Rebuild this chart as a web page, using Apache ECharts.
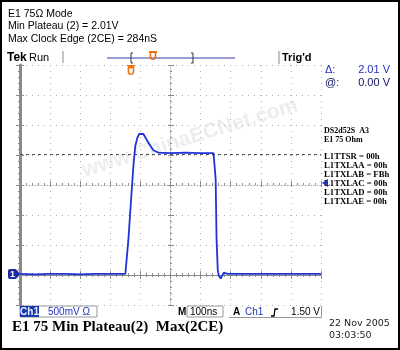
<!DOCTYPE html>
<html><head><meta charset="utf-8">
<script src="https://cdn.jsdelivr.net/npm/echarts@6/dist/echarts.min.js"></script>
<style>html,body{margin:0;padding:0;background:#fff;}#c{width:400px;height:350px;}</style>
</head><body><div id="c"></div>
<script>
const timeNs = [0, 50, 100, 150, 200, 250, 300, 350, 360, 370, 377, 383, 390, 396, 400, 410, 427, 443, 460, 500, 550, 600, 643, 647, 650, 653, 657, 660, 667, 677, 690, 750, 800, 850, 900, 950, 1000];
const ch1Volts = [0.02, 0.01, 0.02, 0.02, 0.01, 0.02, 0.02, 0.02, 0.58, 1.33, 1.83, 2.15, 2.29, 2.35, 2.37, 2.35, 2.20, 2.08, 2.04, 2.03, 2.04, 2.03, 2.03, 2.0, 1.6, 0.6, 0.08, 0.0, -0.06, 0.04, 0.02, 0.02, 0.02, 0.02, 0.02, 0.02, 0.02];
const cursorVolts = [2.01];
const headerLines = ['E1 75Ω Mode', 'Min Plateau (2) = 2.01V', 'Max Clock Edge (2CE) = 284nS'];
const regLines = ['L1TTSR = 00h', 'L1TXLAA = 00h', 'L1TXLAB = FBh', 'L1TXLAC = 00h', 'L1TXLAD = 00h', 'L1TXLAE = 00h'];

const chart = echarts.init(document.getElementById('c'), null, {renderer: 'canvas'});
const G = '#8a8a8a';
function xAx(extra) {
  return Object.assign({
    type: 'value', min: 0, max: 1000, interval: 100, gridIndex: 0,
    axisLabel: {show: false},
    axisLine: {show: true, lineStyle: {color: G, width: 1}},
    axisTick: {show: true, inside: true, length: 4, lineStyle: {color: G}},
    minorTick: {show: true, splitNumber: 5, length: 2, lineStyle: {color: G}},
    splitLine: {show: false}
  }, extra);
}
function yAx(extra) {
  return Object.assign({
    type: 'value', min: -0.5, max: 3.5, interval: 0.5, gridIndex: 0,
    axisLabel: {show: false},
    axisLine: {show: true, lineStyle: {color: G, width: 1}},
    axisTick: {show: true, inside: true, length: 4, lineStyle: {color: G}},
    minorTick: {show: true, splitNumber: 5, length: 2, lineStyle: {color: G}},
    splitLine: {show: false}
  }, extra);
}
function txt(t, x, y, font, fill, align) {
  return {type: 'text', z: 10, style: {text: t, x: x, y: y, font: font, fill: fill,
    align: align || 'left', textAlign: align || 'left', verticalAlign: 'middle', textVerticalAlign: 'middle'}};
}
const graphics = [];
headerLines.forEach((t, i) => graphics.push(txt(t, 8, 14 + i * 12.5, '10.5px "Liberation Sans", Arial, sans-serif', '#000')));
graphics.push(txt('Tek', 7, 58, 'bold 12px "Liberation Sans", Arial, sans-serif', '#000'));
graphics.push(txt('Run', 29, 58, '11px "Liberation Sans", Arial, sans-serif', '#000'));
graphics.push({type: 'line', z: 10, shape: {x1: 63, y1: 51, x2: 63, y2: 63}, style: {stroke: G, lineWidth: 1}});
graphics.push({type: 'line', z: 10, shape: {x1: 107, y1: 58, x2: 235, y2: 58}, style: {stroke: '#7a7ac8', lineWidth: 1.5}});
graphics.push({type: 'polyline', z: 10, shape: {points: [[133, 53], [131, 53], [131, 63], [133, 63]]}, style: {stroke: '#333', lineWidth: 1, fill: null}});
graphics.push({type: 'polyline', z: 10, shape: {points: [[191, 53], [193, 53], [193, 63], [191, 63]]}, style: {stroke: '#333', lineWidth: 1, fill: null}});
graphics.push(txt('U', 153, 57, 'bold 11px "Liberation Sans", Arial, sans-serif', '#f07010', 'center'));
graphics.push({type: 'line', z: 10, shape: {x1: 149, y1: 52, x2: 157, y2: 52}, style: {stroke: '#f07010', lineWidth: 2}});
graphics.push(txt('U', 131, 72, 'bold 11px "Liberation Sans", Arial, sans-serif', '#f07010', 'center'));
graphics.push({type: 'polygon', z: 10, shape: {points: [[126, 65], [136, 65], [131, 69]]}, style: {fill: '#f07010'}});
graphics.push({type: 'line', z: 10, shape: {x1: 279, y1: 51, x2: 279, y2: 64}, style: {stroke: G, lineWidth: 1}});
graphics.push(txt("Trig'd", 282, 58, 'bold 11px "Liberation Sans", Arial, sans-serif', '#000'));
// right panel
graphics.push(txt('Δ:', 325, 70, '11px "Liberation Sans", Arial, sans-serif', '#2030c0'));
graphics.push(txt('2.01 V', 390, 70, '11px "Liberation Sans", Arial, sans-serif', '#2030c0', 'right'));
graphics.push(txt('@:', 325, 83, '11px "Liberation Sans", Arial, sans-serif', '#101060'));
graphics.push(txt('0.00 V', 390, 83, '11px "Liberation Sans", Arial, sans-serif', '#101060', 'right'));
graphics.push(txt('DS2d52S  A3', 324, 131, 'bold 8px "Liberation Serif", "Times New Roman", serif', '#000'));
graphics.push(txt('E1 75 Ohm', 324, 140, 'bold 8px "Liberation Serif", "Times New Roman", serif', '#000'));
regLines.forEach((t, i) => graphics.push(txt(t, 324, 157 + i * 9, 'bold 8.7px "Liberation Serif", "Times New Roman", serif', '#000')));
graphics.push({type: 'polygon', z: 10, shape: {points: [[322, 183], [328, 179], [328, 187]]}, style: {fill: '#2030c0'}});
// ground marker
graphics.push({type: 'rect', z: 10, shape: {x: 8, y: 269, width: 9, height: 10, r: 2}, style: {fill: '#1a2aa8'}});
graphics.push({type: 'polygon', z: 10, shape: {points: [[17, 270], [20, 274], [17, 278]]}, style: {fill: '#1a2aa8'}});
graphics.push(txt('1', 12.5, 274.5, 'bold 9px "Liberation Sans", Arial, sans-serif', '#fff', 'center'));
// bottom status bar
graphics.push({type: 'rect', z: 9, shape: {x: 20, y: 306, width: 77, height: 11}, style: {fill: null, stroke: '#999', lineWidth: 1}});
graphics.push({type: 'rect', z: 10, shape: {x: 20, y: 306, width: 19, height: 11}, style: {fill: '#1a3ab0'}});
graphics.push(txt('Ch1', 29.5, 312, 'bold 10px "Liberation Sans", Arial, sans-serif', '#e8f0ff', 'center'));
graphics.push(txt('500mV Ω', 48, 312, '10px "Liberation Sans", Arial, sans-serif', '#2030c0'));
graphics.push(txt('M', 178, 312, 'bold 10px "Liberation Sans", Arial, sans-serif', '#000'));
graphics.push({type: 'rect', z: 9, shape: {x: 187, y: 306, width: 36, height: 11}, style: {fill: null, stroke: '#999', lineWidth: 1}});
graphics.push(txt('100ns', 190, 312, '10px "Liberation Sans", Arial, sans-serif', '#000'));
graphics.push(txt('A', 233, 312, 'bold 10px "Liberation Sans", Arial, sans-serif', '#000'));
graphics.push(txt('Ch1', 245, 312, '10px "Liberation Sans", Arial, sans-serif', '#2030c0'));
graphics.push({type: 'polyline', z: 10, shape: {points: [[271, 316], [274, 316], [275, 309], [278, 309]]}, style: {stroke: '#000', lineWidth: 1.3, fill: null}});
graphics.push(txt('1.50 V', 320, 312, '10px "Liberation Sans", Arial, sans-serif', '#000', 'right'));
graphics.push({type: 'polyline', z: 9, shape: {points: [[229, 317.5], [321.5, 317.5], [321.5, 306]]}, style: {stroke: '#999', lineWidth: 1, fill: null}});
graphics.push(txt('E1 75 Min Plateau(2)  Max(2CE)', 12, 327, 'bold 15px "Liberation Serif", "Times New Roman", serif', '#000'));
graphics.push(txt('22 Nov 2005', 329, 324, '9.5px "DejaVu Sans", sans-serif', '#222'));
graphics.push(txt('03:03:50', 329, 336, '9.5px "DejaVu Sans", sans-serif', '#222'));
// watermark
graphics.push({type: 'text', z: 1, x: 190, y: 138, rotation: 0.3, style: {text: 'www.ChinaECNet.com', x: 0, y: 0, font: 'bold 21px "Liberation Sans", Arial, sans-serif', fill: 'rgba(190,190,190,0.28)', align: 'center', textAlign: 'center', verticalAlign: 'middle', textVerticalAlign: 'middle'}});
// outer frame
graphics.push({type: 'rect', z: 20, shape: {x: 1, y: 1, width: 398, height: 348}, style: {fill: null, stroke: '#000', lineWidth: 2}});

const option = {
  animation: false,
  backgroundColor: '#fff',
  grid: {left: 20, top: 65, width: 301, height: 240, containLabel: false},
  xAxis: [
    xAx({position: 'bottom', splitLine: {show: true, lineStyle: {color: '#b0b0b0', type: [1, 5], width: 1}}}),
    xAx({position: 'top'}),
    xAx({position: 'bottom', offset: -120, axisLine: {show: true, lineStyle: {color: '#aaa', type: [1, 2]}}}),
    xAx({position: 'bottom', offset: -120, axisLine: {show: false}, axisTick: {show: true, inside: false, length: 2, lineStyle: {color: G}}, minorTick: {show: false}})
  ],
  yAxis: [
    yAx({position: 'left', axisLine: {show: true, lineStyle: {color: G, width: 3}}, splitLine: {show: true, lineStyle: {color: '#b0b0b0', type: [1, 5], width: 1}}}),
    yAx({position: 'right', axisLine: {show: true, lineStyle: {color: G, width: 2}}}),
    yAx({position: 'left', offset: -150, axisLine: {show: true, lineStyle: {color: '#aaa', type: [1, 2]}}}),
    yAx({position: 'left', offset: -150, axisLine: {show: false}, axisTick: {show: true, inside: false, length: 2, lineStyle: {color: G}}, minorTick: {show: false}})
  ],
  series: [{
    type: 'line', xAxisIndex: 0, yAxisIndex: 0, z: 5,
    data: timeNs.map((t, i) => [t, ch1Volts[i]]),
    showSymbol: false, smooth: false,
    lineStyle: {color: '#1e34d6', width: 1.8},
    markLine: {silent: true, symbol: 'none', label: {show: false},
      lineStyle: {color: '#555', type: [3, 3], width: 1},
      data: cursorVolts.map(v => ({yAxis: v}))}
  }],
  graphic: graphics
};
chart.setOption(option);
</script></body></html>
